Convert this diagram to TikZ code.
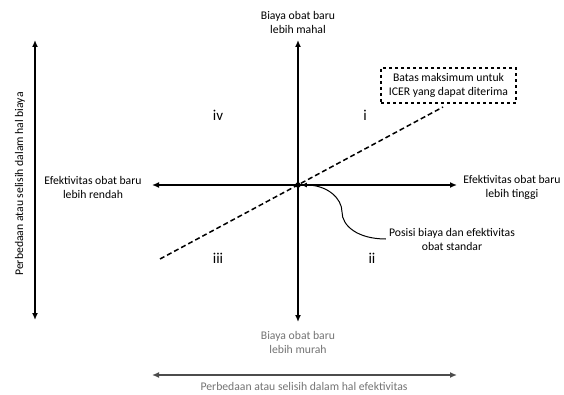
\documentclass[tikz,border=0pt]{standalone}
\usepackage{fontspec}
\setmainfont{Carlito}
\usetikzlibrary{arrows.meta,positioning}
\begin{document}
\begin{tikzpicture}[x=1pt,y=-1pt,
    axis/.style={line width=1.5pt,-{Latex[length=7pt,width=6pt]}},
    both/.style={line width=1.5pt,{Latex[length=7pt,width=6pt]}-{Latex[length=7pt,width=6pt]}},
    lbl/.style={align=center,inner sep=1pt,font=\fontsize{11.7}{14}\selectfont},
    quad/.style={font=\fontsize{15}{17}\selectfont}]
  \useasboundingbox (0,0) rectangle (564,395);
  \path (298,185) node[circle,fill,inner sep=0pt,minimum size=5.5pt] (O) {};
  \path (298,40) coordinate (top) (298,322) coordinate (bot);
  \path (152,185) coordinate (left) (457,185) coordinate (right);
  \path (298,22) node[lbl] (mahal) {Biaya obat baru\\lebih mahal};
  \path (298,342) node[lbl,text=black!55] (murah) {Biaya obat baru\\lebih murah};
  \path (93,187) node[lbl] (rendah) {Efektivitas obat baru\\lebih rendah};
  \path (512,187) node[lbl] (tinggi) {Efektivitas obat baru\\lebih tinggi};
  \path (448.5,85.5) node[lbl,draw,dashed,line width=1.2pt,minimum width=135pt,minimum height=35pt] (icer) {Batas maksimum untuk\\ICER yang dapat diterima};
  \path (452,239) node[lbl,inner sep=3pt] (std) {Posisi biaya dan efektivitas\\obat standar};
  \path (218,115) node[quad] (q4) {iv} (365,115) node[quad] (q1) {i};
  \path (218,258) node[quad] (q3) {iii} (372,258) node[quad] (q2) {ii};
  \path (20,184) node[lbl,rotate=90] (dbiaya) {Perbedaan atau selisih dalam hal biaya};
  \path (304,386) node[lbl,text=black!55] (defek) {Perbedaan atau selisih dalam hal efektivitas};
  \path (35,40) coordinate (vt) (35,320) coordinate (vb);
  \path (152,375) coordinate (hl) (457,375) coordinate (hr);
  \path (160,259) coordinate (dlo) (443,107) coordinate (dhi);
  \path (342,212) coordinate (bend);
  \draw[axis] (O.center) -- (top);
  \draw[axis] (O.center) -- (bot);
  \draw[axis] (O.center) -- (left);
  \draw[axis] (O.center) -- (right);
  \draw[both] (vt) -- (vb);
  \draw[both,black!70] (hl) -- (hr);
  \draw[line width=1.5pt,dash pattern=on 5pt off 3pt] (dlo) -- (dhi);
  \draw[line width=1pt,-{Latex[length=6pt,width=5pt]}] (std.west) .. controls +(-28,0) and +(0,14) .. (bend) .. controls +(0,-14) and +(26,0) .. (O.east);
\end{tikzpicture}
\end{document}
